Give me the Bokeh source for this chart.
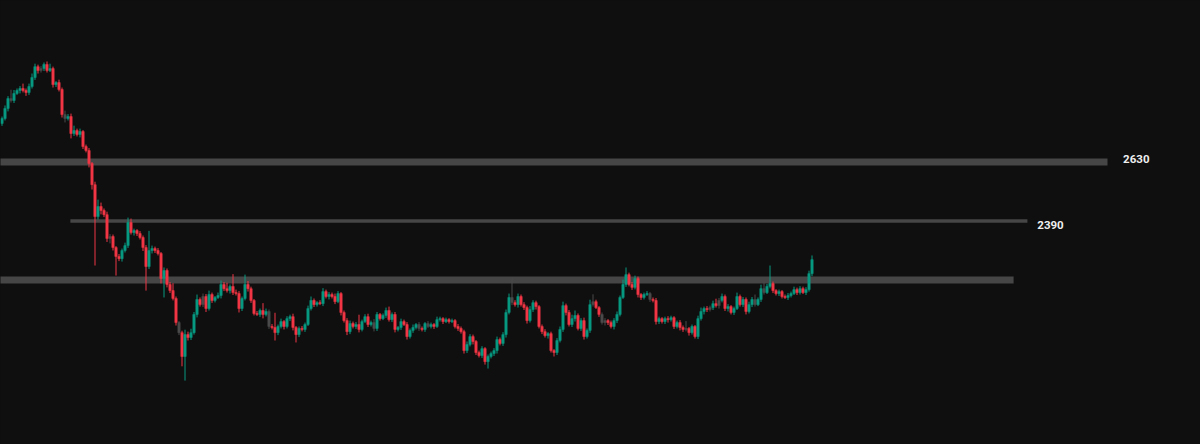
from bokeh.plotting import figure
from bokeh.models import ColumnDataSource, Range1d, Label
from bokeh.embed import file_html
from bokeh.resources import INLINE

# ---------------- data ----------------
first_open = 2787
closes = [
    2807, 2848, 2888, 2880, 2909, 2921, 2929, 2921, 2913, 2937,
    2974, 3018, 3002, 3010, 3027, 3002, 3010, 2945, 2953, 2925,
    2823, 2807, 2815, 2746, 2758, 2742, 2754, 2693, 2677, 2624,
    2538, 2408, 2449, 2433, 2416, 2319, 2327, 2282, 2246, 2237,
    2270, 2290, 2384, 2343, 2351, 2339, 2323, 2282, 2205, 2270,
    2278, 2270, 2258, 2156, 2189, 2132, 2107, 2075, 1977, 1936,
    1839, 1928, 1916, 1936, 2010, 2071, 2050, 2083, 2034, 2091,
    2067, 2079, 2087, 2132, 2115, 2107, 2124, 2099, 2095, 2034,
    2075, 2132, 2115, 2067, 2014, 2010, 2026, 2010, 2022, 1961,
    1957, 1936, 1961, 1981, 1961, 1993, 2001, 1957, 1928, 1953,
    1949, 1969, 2034, 2067, 2050, 2058, 2054, 2103, 2083, 2091,
    2083, 2062, 2095, 2018, 1985, 1940, 1973, 1961, 1969, 1949,
    1981, 2001, 1969, 1977, 1953, 2010, 1993, 2006, 2026, 1989,
    2010, 1949, 1957, 1981, 1969, 1920, 1945, 1957, 1969, 1953,
    1949, 1973, 1961, 1969, 1961, 1989, 1993, 1981, 1989, 1981,
    1985, 1961, 1953, 1940, 1863, 1888, 1920, 1900, 1855, 1843,
    1871, 1818, 1839, 1851, 1863, 1908, 1892, 1928, 2018, 2079,
    2058, 2050, 2083, 2050, 2038, 1985, 2030, 2058, 2042, 1961,
    1940, 1924, 1932, 1863, 1855, 1904, 1949, 2046, 2018, 1969,
    1993, 2006, 1953, 1985, 1920, 1945, 2050, 2062, 2038, 2010,
    1977, 1985, 1977, 1961, 1985, 2010, 2079, 2132, 2172, 2132,
    2120, 2156, 2091, 2079, 2091, 2095, 2071, 2067, 1981, 1993,
    1981, 1993, 1989, 1997, 1961, 1977, 1957, 1949, 1953, 1936,
    1961, 1920, 1993, 2022, 2034, 2030, 2038, 2054, 2046, 2067,
    2083, 2034, 2042, 2018, 2034, 2083, 2050, 2071, 2022, 2050,
    2071, 2050, 2071, 2115, 2099, 2124, 2136, 2107, 2095, 2103,
    2083, 2079, 2087, 2095, 2111, 2099, 2115, 2099, 2111, 2176,
    2233,
]
upper_wick = [
    8, 12, 10, 36, 14, 8, 10, 20, 8, 12,
    16, 12, 8, 10, 8, 12, 20, 8, 6, 12,
    8, 16, 10, 12, 20, 8, 12, 6, 8, 10,
    6, 12, 28, 16, 8, 12, 10, 8, 6, 10,
    8, 12, 20, 16, 8, 6, 10, 8, 10, 80,
    12, 8, 10, 6, 12, 8, 10, 30, 8, 6,
    8, 20, 12, 16, 10, 20, 8, 12, 10, 16,
    8, 6, 12, 16, 10, 24, 8, 50, 12, 10,
    8, 40, 14, 8, 6, 10, 8, 30, 12, 8,
    10, 60, 8, 12, 6, 10, 8, 12, 6, 8,
    10, 8, 12, 16, 8, 6, 10, 14, 8, 10,
    8, 12, 10, 6, 8, 10, 12, 8, 10, 40,
    8, 10, 12, 8, 14, 10, 6, 8, 12, 16,
    8, 10, 6, 12, 8, 10, 8, 12, 6, 10,
    8, 6, 10, 8, 6, 12, 8, 6, 8, 6,
    8, 6, 10, 8, 8, 12, 10, 8, 6, 8,
    10, 6, 8, 8, 10, 12, 8, 10, 12, 16,
    77, 10, 12, 8, 10, 8, 14, 10, 8, 6,
    8, 10, 6, 8, 6, 10, 12, 16, 8, 10,
    16, 20, 8, 10, 12, 8, 20, 30, 8, 6,
    8, 10, 6, 8, 10, 12, 8, 20, 29, 8,
    10, 12, 8, 6, 8, 10, 6, 8, 10, 8,
    6, 8, 10, 8, 6, 8, 10, 8, 30, 6,
    8, 6, 12, 16, 8, 10, 8, 12, 20, 10,
    12, 8, 10, 6, 8, 16, 8, 10, 8, 12,
    10, 20, 8, 16, 30, 10, 73, 8, 6, 8,
    6, 8, 10, 8, 12, 8, 10, 8, 10, 12,
    17,
]
lower_wick = [
    10, 8, 12, 8, 10, 6, 12, 8, 14, 10,
    8, 10, 12, 8, 10, 8, 6, 12, 10, 8,
    12, 16, 8, 20, 10, 8, 12, 10, 8, 16,
    20, 199, 12, 16, 10, 14, 20, 12, 78, 10,
    12, 8, 10, 8, 12, 10, 8, 14, 98, 10,
    12, 10, 8, 20, 77, 12, 10, 8, 12, 10,
    40, 98, 12, 10, 8, 12, 8, 10, 14, 8,
    10, 8, 6, 12, 10, 8, 12, 10, 8, 16,
    10, 8, 12, 10, 8, 6, 10, 16, 8, 10,
    8, 32, 10, 8, 12, 8, 10, 12, 32, 10,
    8, 10, 6, 8, 10, 8, 6, 10, 8, 12,
    8, 10, 6, 12, 8, 14, 10, 8, 10, 12,
    8, 6, 10, 8, 12, 10, 8, 6, 10, 8,
    10, 12, 8, 10, 6, 12, 8, 10, 8, 10,
    8, 10, 6, 8, 10, 6, 8, 10, 6, 8,
    6, 8, 10, 8, 12, 10, 8, 12, 10, 8,
    10, 12, 28, 8, 10, 12, 8, 10, 12, 8,
    10, 8, 12, 8, 10, 12, 8, 10, 12, 8,
    10, 8, 12, 8, 16, 10, 8, 10, 12, 8,
    10, 12, 8, 10, 12, 8, 10, 8, 6, 10,
    8, 12, 10, 8, 12, 10, 8, 6, 10, 8,
    10, 8, 12, 10, 8, 6, 10, 8, 12, 10,
    8, 10, 12, 8, 10, 8, 12, 10, 8, 12,
    8, 8, 10, 8, 12, 10, 8, 10, 8, 12,
    8, 10, 12, 8, 10, 6, 8, 10, 12, 8,
    10, 8, 6, 10, 8, 6, 8, 10, 8, 10,
    8, 6, 10, 8, 6, 10, 8, 6, 10, 8,
    10,
]
gray_idx = [3, 13, 21, 36, 59, 67, 89, 124, 139, 142, 170, 197, 200, 201,
            216, 228, 236, 239, 251, 254]

levels = [2630, 2390, 2150]
level_labels = ["2630", "2390"]
band_start = [-1.5, 22.8, -1.5]      # in bar-index units
band_end = [368.5, 341.8, 337.2]
label_x = [373.7, 345.1]
label_y = [2644, 2373]

# ---------------- derived ----------------
n = len(closes)
idx = list(range(n))
opens = [first_open] + closes[:-1]
highs = [max(o, c) + u for o, c, u in zip(opens, closes, upper_wick)]
lows = [min(o, c) - l for o, c, l in zip(opens, closes, lower_wick)]
GREEN, RED, GRAY = "#089981", "#f23645", "#4a4a4a"
colors = []
for i, (o, c) in enumerate(zip(opens, closes)):
    if i in gray_idx:
        colors.append(GRAY)
    else:
        colors.append(GREEN if c >= o else RED)

src = ColumnDataSource(dict(
    x=idx, top=[max(o, c) for o, c in zip(opens, closes)],
    bottom=[min(o, c) for o, c in zip(opens, closes)],
    high=highs, low=lows, color=colors))

BG = "#0f0f0f"
p = figure(width=1200, height=444, output_backend="svg", toolbar_location=None,
           x_range=Range1d(-0.5, 399.5), y_range=Range1d(1481, 3287),
           min_border=0, background_fill_color=BG, border_fill_color=BG,
           outline_line_color=None)
p.axis.visible = False
p.grid.visible = False

# bands
band_widths = [7, 3.5, 7]
for lv, s, e, w in zip(levels, band_start, band_end, band_widths):
    p.segment(x0=s, y0=lv, x1=e, y1=lv, line_color="#464646", line_width=w)

# candles
p.segment(x0="x", y0="low", x1="x", y1="high", color="color", line_width=1, source=src)
p.vbar(x="x", width=0.8, top="top", bottom="bottom", fill_color="color",
       line_color="color", line_width=0.5, source=src)

for t, lx, ly in zip(level_labels, label_x, label_y):
    p.add_layout(Label(x=lx, y=ly, text=t, text_color="#eeeeee", text_font="Roboto",
                       text_font_size="11.5px", text_font_style="bold",
                       text_baseline="middle", text_align="left"))

html = file_html(p, INLINE, "chart")
html = html.replace("</head>", "<style>html,body{margin:0;padding:0;background:#0f0f0f;overflow:hidden}</style></head>", 1)
open("out.html", "w").write(html)
